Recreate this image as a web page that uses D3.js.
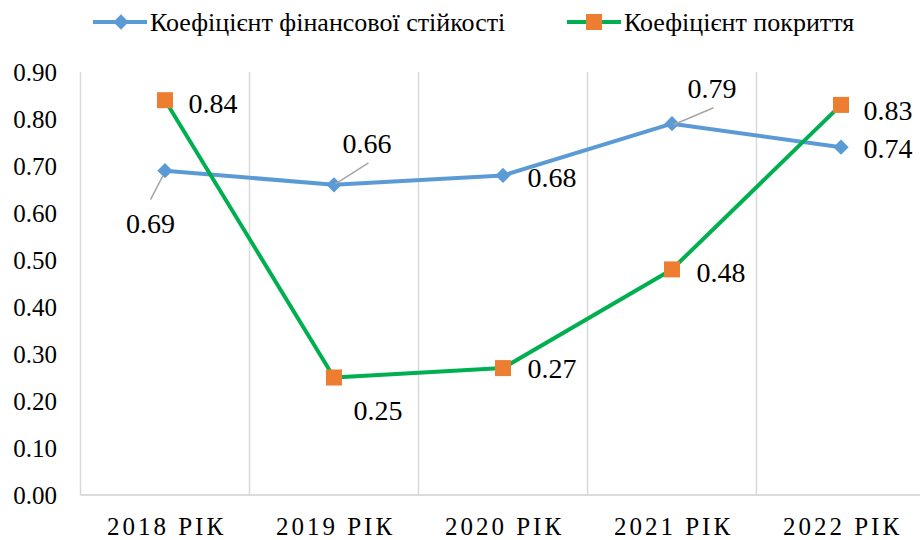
<!DOCTYPE html>
<html>
<head>
<meta charset="utf-8">
<script src="https://cdn.jsdelivr.net/npm/d3@7"></script>
<style>
svg text { font-family: "Liberation Serif", "Times New Roman", Tinos, serif !important; }
</style>
</head>
<body style="margin:0;padding:0;background:#fff;">
<svg id="chart" width="920" height="540"></svg>
<script>
const categories = ["2018 РІК", "2019 РІК", "2020 РІК", "2021 РІК", "2022 РІК"];
const stabilityValues = [0.69, 0.66, 0.68, 0.79, 0.74];
const coverageValues = [0.84, 0.25, 0.27, 0.48, 0.83];
const seriesNames = ["Коефіцієнт фінансової стійкості", "Коефіцієнт покриття"];
const yTicks = [0, 0.1, 0.2, 0.3, 0.4, 0.5, 0.6, 0.7, 0.8, 0.9];

// label placement (layout only)
const stabilityLabelOffsets = [[-14.5, 62, "middle"], [8.5, -32, "start"], [24.5, 12, "start"], [15.5, -26, "start"], [22.5, 11, "start"]];
const stabilityLeaders = [[-14.5, 29, -2, 5], [1.5, -1, 34.5, -22], null, [1.5, 1, 41.5, -16], null];
const coverageLabelOffsets = [[23.5, 13, "start"], [19.5, 42, "start"], [24.5, 10, "start"], [24.5, 13, "start"], [22.5, 15, "start"]];

const FONT = "Times New Roman, Liberation Serif, serif";
const svg = d3.select("#chart").attr("font-family", FONT);
const margin = {left: 80.5, right: 925.5, top: 72, bottom: 495};

const x = d3.scaleBand().domain(categories).range([margin.left, margin.right]);
const y = d3.scaleLinear().domain([0, 0.9]).range([margin.bottom, margin.top]);
const cx = d => x(d) + x.bandwidth() / 2;

// vertical gridlines at band boundaries
const boundaries = categories.map(c => x(c)).concat([x(categories[categories.length - 1]) + x.bandwidth()]);
svg.append("g").selectAll("line").data(boundaries).join("line")
  .attr("x1", d => d).attr("x2", d => d)
  .attr("y1", y(0.9)).attr("y2", y(0))
  .attr("stroke", "#d9d9d9").attr("stroke-width", 1.5);

// x axis line
svg.append("line")
  .attr("x1", margin.left).attr("x2", 920)
  .attr("y1", y(0)).attr("y2", y(0))
  .attr("stroke", "#d0d0d0").attr("stroke-width", 1.5);

// y axis labels
const yAxis = d3.axisLeft(y).tickValues(yTicks).tickFormat(d3.format(".2f")).tickSize(0).tickPadding(0);
const yg = svg.append("g").attr("transform", "translate(57,0)").call(yAxis);
yg.attr("font-family", FONT).attr("font-size", 25);
yg.select(".domain").remove();
yg.selectAll("text").attr("font-family", FONT).attr("font-size", 25).attr("fill", "#000").attr("dy", "0.34em");

// x axis labels
const xAxis = d3.axisBottom(x).tickSize(0).tickPadding(0);
const xg = svg.append("g").attr("transform", `translate(0,${y(0)})`).call(xAxis);
xg.attr("font-family", FONT).attr("font-size", 25);
xg.select(".domain").remove();
xg.selectAll("text").attr("font-family", FONT).attr("font-size", 25).attr("fill", "#000")
  .attr("letter-spacing", "3px").attr("y", 40).attr("dy", 0).attr("dx", 1.5);

const lineGen = d3.line().x((d, i) => cx(categories[i])).y(d => y(d));

// blue series
svg.append("path").datum(stabilityValues).attr("d", lineGen)
  .attr("fill", "none").attr("stroke", "#5b9bd5").attr("stroke-width", 4).attr("stroke-linejoin", "round");
// green series
svg.append("path").datum(coverageValues).attr("d", lineGen)
  .attr("fill", "none").attr("stroke", "#00b050").attr("stroke-width", 4).attr("stroke-linejoin", "round");

const diamond = d3.symbol().type(d3.symbolDiamond2).size(150);
svg.append("g").selectAll("path").data(stabilityValues).join("path")
  .attr("d", diamond)
  .attr("transform", (d, i) => `translate(${cx(categories[i])},${y(d)})`)
  .attr("fill", "#5b9bd5");

const sq = 16;
svg.append("g").selectAll("rect").data(coverageValues).join("rect")
  .attr("x", (d, i) => cx(categories[i]) - sq / 2)
  .attr("y", d => y(d) - sq / 2)
  .attr("width", sq).attr("height", sq)
  .attr("fill", "#ed7d31");

// leader lines
const leaders = stabilityValues.map((v, i) => stabilityLeaders[i] ? {v, i, l: stabilityLeaders[i]} : null).filter(Boolean);
svg.append("g").selectAll("line").data(leaders).join("line")
  .attr("x1", d => cx(categories[d.i]) + d.l[0]).attr("y1", d => y(d.v) + d.l[1])
  .attr("x2", d => cx(categories[d.i]) + d.l[2]).attr("y2", d => y(d.v) + d.l[3])
  .attr("stroke", "#a6a6a6").attr("stroke-width", 1.5);

const fmt = d3.format(".2f");
function labels(values, offsets) {
  svg.append("g").selectAll("text").data(values).join("text")
    .attr("x", (d, i) => cx(categories[i]) + offsets[i][0])
    .attr("y", (d, i) => y(d) + offsets[i][1])
    .attr("text-anchor", (d, i) => offsets[i][2])
    .attr("font-family", FONT).attr("font-size", 28)
    .attr("fill", "#000")
    .text(d => fmt(d));
}
labels(stabilityValues, stabilityLabelOffsets);
labels(coverageValues, coverageLabelOffsets);

// legend
const legend = svg.append("g");
const legendItems = [
  {name: seriesNames[0], color: "#5b9bd5", marker: "diamond", x0: 93},
  {name: seriesNames[1], color: "#00b050", marker: "square", x0: 567}
];
const ly = 22;
legendItems.forEach(it => {
  legend.append("line").attr("x1", it.x0).attr("x2", it.x0 + 54).attr("y1", ly).attr("y2", ly)
    .attr("stroke", it.color).attr("stroke-width", 4);
  if (it.marker === "diamond") {
    legend.append("path").attr("d", diamond).attr("transform", `translate(${it.x0 + 28},${ly})`).attr("fill", "#5b9bd5");
  } else {
    legend.append("rect").attr("x", it.x0 + 27 - sq / 2).attr("y", ly - sq / 2).attr("width", sq).attr("height", sq).attr("fill", "#ed7d31");
  }
  legend.append("text").attr("x", it.x0 + 57).attr("y", ly + 9)
    .attr("font-family", FONT).attr("font-size", 26).attr("fill", "#000").text(it.name);
});
</script>
</body>
</html>
